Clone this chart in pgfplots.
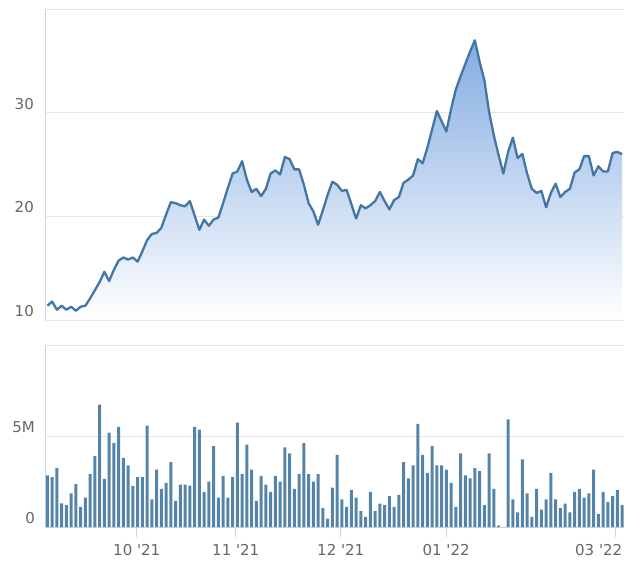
\documentclass[border=0pt]{standalone}
\usepackage{fontspec}
\setmainfont{DejaVu Sans}
\usepackage{pgfplots}
\usepackage{pgfplotstable}
\pgfplotsset{compat=1.18}
\definecolor{linecol}{RGB}{68,118,163}
\definecolor{barcol}{RGB}{84,133,168}
\definecolor{gridcol}{RGB}{230,230,230}
\definecolor{axcol}{RGB}{204,214,235}
\definecolor{labcol}{RGB}{102,102,102}
\definecolor{areatop}{RGB}{132,172,226}

\pgfplotstableread{
i p v
0 11.38 2.83
1 11.78 2.74
2 10.99 3.24
3 11.38 1.30
4 10.99 1.20
5 11.28 1.85
6 10.89 2.35
7 11.28 1.11
8 11.38 1.61
9 12.08 2.91
10 12.87 3.89
11 13.66 6.72
12 14.65 2.65
13 13.76 5.19
14 14.84 4.61
15 15.73 5.50
16 16.03 3.80
17 15.83 3.39
18 16.03 2.26
19 15.63 2.74
20 16.62 2.74
21 17.71 5.57
22 18.30 1.52
23 18.40 3.15
24 18.90 2.09
25 20.18 2.43
26 21.37 3.56
27 21.27 1.43
28 21.07 2.33
29 20.97 2.33
30 21.47 2.28
31 20.08 5.50
32 18.70 5.35
33 19.69 1.93
34 19.09 2.50
35 19.69 4.44
36 19.88 1.61
37 21.27 2.81
38 22.75 1.61
39 24.13 2.74
40 24.33 5.74
41 25.32 2.91
42 23.54 4.52
43 22.35 3.15
44 22.65 1.43
45 21.96 2.81
46 22.65 2.33
47 24.13 1.93
48 24.43 2.81
49 24.04 2.50
50 25.72 4.37
51 25.52 4.04
52 24.53 2.09
53 24.53 2.91
54 23.05 4.61
55 21.27 2.91
56 20.48 2.50
57 19.19 2.91
58 20.58 1.04
59 22.06 0.46
60 23.34 2.17
61 23.05 3.96
62 22.45 1.52
63 22.55 1.11
64 21.17 2.02
65 19.79 1.61
66 21.07 0.87
67 20.77 0.56
68 21.07 1.93
69 21.47 0.87
70 22.35 1.28
71 21.47 1.20
72 20.67 1.69
73 21.57 1.11
74 21.86 1.76
75 23.24 3.56
76 23.54 2.67
77 23.94 3.39
78 25.52 5.67
79 25.12 3.96
80 26.61 2.98
81 28.38 4.44
82 30.16 3.39
83 29.17 3.39
84 28.19 3.15
85 30.36 2.43
86 32.24 1.11
87 33.52 4.04
88 34.71 2.83
89 35.90 2.67
90 36.98 3.24
91 34.91 3.07
92 33.13 1.20
93 30.06 4.04
94 27.79 2.09
95 25.91 0.07
96 24.13 0
97 26.21 5.91
98 27.59 1.52
99 25.62 0.80
100 26.02 3.72
101 24.13 1.85
102 22.65 0.56
103 22.26 2.09
104 22.45 0.96
105 20.87 1.52
106 22.26 2.98
107 23.15 1.52
108 21.86 1.04
109 22.35 1.28
110 22.65 0.80
111 24.23 1.93
112 24.53 2.09
113 25.81 1.61
114 25.81 1.85
115 23.94 3.15
116 24.83 0.72
117 24.33 1.93
118 24.33 1.37
119 26.11 1.69
120 26.21 2.02
121 26.01 1.20
}\data

\begin{document}
\begin{tikzpicture}
\path[use as bounding box] (0,0) rectangle (640bp,-568bp);
\pgfplotsset{
  every axis/.append style={
    scale only axis, width=579bp,
    xmin=-0.5, xmax=121.4,
    axis x line*=bottom, axis y line*=left,
    ymajorgrids, grid style={draw=gridcol, line width=1bp},
    y axis line style={draw=axcol, line width=1bp, -},
    tick label style={font=\fontsize{15bp}{18bp}\selectfont, text=labcol},
    ytick style={draw=none},
  }
}
\begin{axis}[
  at={(45bp,-9bp)}, anchor=north west, height=311bp,
  ymin=10, ymax=40,
  x axis line style={draw=gridcol, line width=1bp, -},
  xtick=\empty,
  ytick={10,20,30,40}, yticklabels={10,20,30,},
  major tick length=0pt,
  yticklabel style={anchor=east, inner sep=0pt, xshift=-11bp, yshift=9bp},
]
\addplot[draw=none, top color=areatop, bottom color=white, forget plot]
  table[x=i, y=p]{\data} |- (axis cs:0,10) -- cycle;
\addplot[linecol, line width=2.3bp, line join=round] table[x=i, y=p]{\data};
\end{axis}
\begin{axis}[
  at={(45bp,-345bp)}, anchor=north west, height=182bp,
  ymin=0, ymax=10,
  x axis line style={draw=axcol, line width=1bp, -},
  ytick={0,5,10}, yticklabels={0,5M,},
  xtick={18.82,39.66,61.77,83.94},
  xticklabels={10 \textquotesingle21, 11 \textquotesingle21, 12 \textquotesingle21, 01 \textquotesingle22},
  extra x ticks={119.66},
  extra x tick labels={03 \textquotesingle22},
  extra x tick style={xticklabel style={xshift=-17bp}},
  tick align=outside, major tick length=10bp,
  xtick style={draw=axcol, line width=1bp},
  xticklabel style={anchor=north, inner sep=0pt, yshift=-7bp},
  yticklabel style={anchor=east, inner sep=0pt, xshift=0bp, yshift=9bp},
]
\addplot[ybar, bar width=2.8bp, fill=barcol, draw=none] table[x=i, y=v]{\data};
\end{axis}
\end{tikzpicture}
\end{document}
